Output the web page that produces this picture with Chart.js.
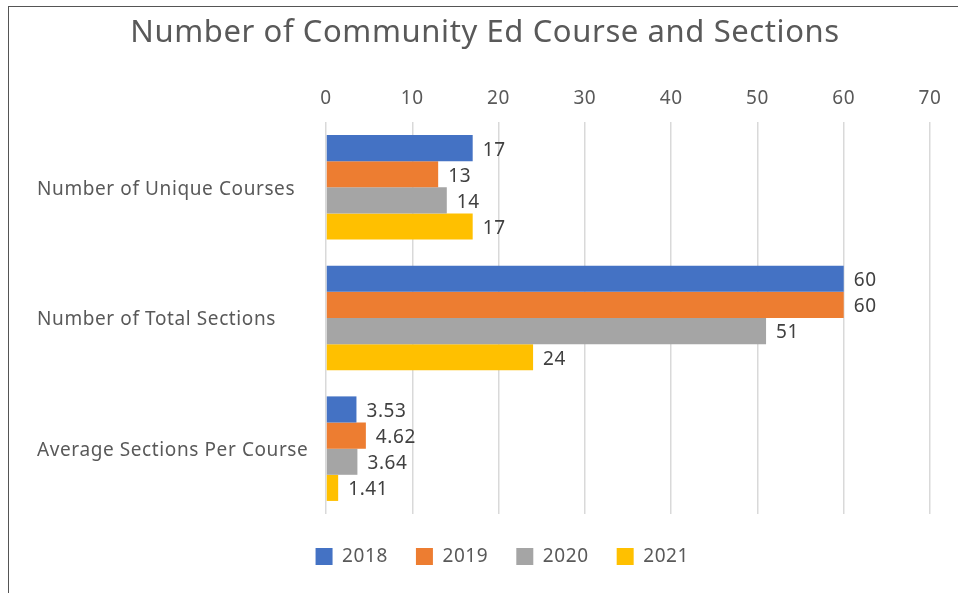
<!DOCTYPE html>
<html><head><meta charset="utf-8">
<script src="https://cdn.jsdelivr.net/npm/chart.js@4"></script>
<style>
html,body{margin:0;padding:0;background:#fff;}
#wrap{position:absolute;left:0;top:0;width:958px;height:593px;}
#frame{position:absolute;left:8px;top:6px;width:960px;height:600px;border-left:1px solid #555;border-top:1px solid #555;}
canvas{position:absolute;left:0;top:0;}
</style></head>
<body>
<div id="wrap"><div id="frame"></div><canvas id="c" width="958" height="593"></canvas></div>
<script>
const chartTitle = "Number of Community Ed Course and Sections";
const categories = ["Number of Unique Courses", "Number of Total Sections", "Average Sections Per Course"];
const seriesNames = ["2018", "2019", "2020", "2021"];
const values2018 = [17, 60, 3.53];
const values2019 = [13, 60, 4.62];
const values2020 = [14, 51, 3.64];
const values2021 = [17, 24, 1.41];
const xTicks = [0, 10, 20, 30, 40, 50, 60, 70];

const colors = ["#4472C4", "#ED7D31", "#A5A5A5", "#FFC000"];
const FONT = "'Noto Sans', sans-serif";
const TXT = "#595959";
const SPACING = '0.6px';

const spacingPlugin = {
  id: 'spacing',
  beforeDraw(chart) { chart.ctx.letterSpacing = SPACING; }
};

const titlePlugin = {
  id: 'customTitle',
  afterDraw(chart) {
    const ctx = chart.ctx;
    ctx.save();
    ctx.letterSpacing = SPACING;
    ctx.font = "31px " + FONT;
    ctx.fillStyle = TXT;
    ctx.textAlign = "center";
    ctx.textBaseline = "middle";
    ctx.fillText(chartTitle, 485, 33);
    ctx.restore();
  }
};

const labelPlugin = {
  id: 'barLabels',
  afterDatasetsDraw(chart) {
    const ctx = chart.ctx;
    ctx.save();
    ctx.letterSpacing = SPACING;
    ctx.font = "19px " + FONT;
    ctx.fillStyle = "#404040";
    ctx.textAlign = "left";
    ctx.textBaseline = "middle";
    chart.data.datasets.forEach((ds, i) => {
      const meta = chart.getDatasetMeta(i);
      meta.data.forEach((el, j) => {
        ctx.fillText(String(ds.data[j]), el.x + 10, el.y + 2);
      });
    });
    ctx.restore();
  }
};

new Chart(document.getElementById('c'), {
  type: 'bar',
  data: {
    labels: categories,
    datasets: [values2018, values2019, values2020, values2021].map((d, i) => ({
      label: seriesNames[i], data: d, backgroundColor: colors[i],
      categoryPercentage: 0.8, barPercentage: 1.0
    }))
  },
  options: {
    indexAxis: 'y',
    responsive: false,
    animation: false,
    devicePixelRatio: 1,
    layout: { padding: { left: 37, right: 0, top: 51, bottom: 17 } },
    scales: {
      x: {
        position: 'top', min: 0, max: 70,
        afterBuildTicks(s) { s.ticks = xTicks.map(v => ({ value: v })); },
        afterFit(s) { s.height = 71; },
        grid: { color: "#D9D9D9", lineWidth: 1.5, drawTicks: false },
        border: { display: false },
        ticks: { color: TXT, font: { family: FONT, size: 19 }, padding: 12 }
      },
      x2: {
        position: 'bottom', min: 0, max: 70,
        afterFit(s) { s.height = 5; },
        grid: { display: false },
        border: { display: false },
        ticks: { display: false }
      },
      y: {
        afterFit(s) { s.width = 289; },
        grid: { display: false },
        border: { display: false },
        ticks: { color: TXT, crossAlign: 'far', font: { family: FONT, size: 19 }, padding: 0, labelOffset: 2 }
      },
      y2: {
        type: 'category', position: 'right',
        afterFit(s) { s.width = 28; },
        grid: { display: false },
        border: { display: false },
        ticks: { display: false }
      }
    },
    plugins: {
      title: { display: false },
      legend: { position: 'bottom',
        labels: { color: TXT, font: { family: FONT, size: 19 }, boxWidth: 17, boxHeight: 17, padding: 28 } },
      tooltip: { enabled: false }
    }
  },
  plugins: [spacingPlugin, labelPlugin, titlePlugin]
});
</script>
</body></html>
